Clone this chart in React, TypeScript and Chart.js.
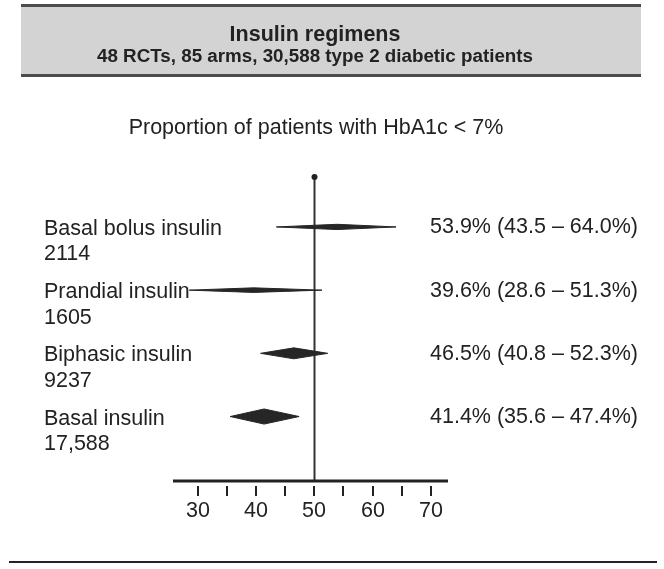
import React, { useEffect, useRef } from "react";
import { Chart, registerables } from "chart.js";

Chart.register(...registerables);

const headerTitle = "Insulin regimens";
const headerSubtitle = "48 RCTs, 85 arms, 30,588 type 2 diabetic patients";
const chartTitle = "Proportion of patients with HbA1c < 7%";

const categories = ["Basal bolus insulin", "Prandial insulin", "Biphasic insulin", "Basal insulin"];
const patients = [2114, 1605, 9237, 17588];
const estimates = [53.9, 39.6, 46.5, 41.4];
const lowerCI = [43.5, 28.6, 40.8, 35.6];
const upperCI = [64.0, 51.3, 52.3, 47.4];

const xTicks = [30, 35, 40, 45, 50, 55, 60, 65, 70];
const xTickLabels = ["30", "", "40", "", "50", "", "60", "", "70"];
const referenceValue = 50;

const FONT = '"Liberation Sans", Arial, Helvetica, sans-serif';
const INK = "#222222";

function fmtCount(n: number) {
  return n >= 10000 ? n.toLocaleString("en-US") : String(n);
}

const forestPlugin = {
  id: "forest",
  beforeDraw(chart: any) {
    const ctx = chart.ctx;
    ctx.save();
    // header box
    ctx.fillStyle = "#d3d3d3";
    ctx.fillRect(21, 5, 620, 71);
    ctx.fillStyle = "#4d4d4d";
    ctx.fillRect(21, 4, 620, 3);
    ctx.fillRect(21, 74, 620, 3);
    ctx.fillStyle = INK;
    ctx.textAlign = "center";
    ctx.textBaseline = "alphabetic";
    ctx.font = `bold 21.5px ${FONT}`;
    ctx.fillText(headerTitle, 315, 41);
    ctx.font = `bold 18.8px ${FONT}`;
    ctx.fillText(headerSubtitle, 315, 62);
    ctx.font = `21.5px ${FONT}`;
    ctx.fillText(chartTitle, 316, 134);
    // bottom rule
    ctx.fillStyle = INK;
    ctx.fillRect(9, 561, 648, 2);
    ctx.restore();
  },
  afterDatasetsDraw(chart: any) {
    const ctx = chart.ctx;
    const xs = chart.scales.x;
    const ys = chart.scales.y;
    const area = chart.chartArea;
    ctx.save();

    // reference line
    const xr = Math.round(xs.getPixelForValue(referenceValue)) + 0.5;
    ctx.strokeStyle = "#333333";
    ctx.lineWidth = 2;
    ctx.beginPath();
    ctx.moveTo(xr, area.top);
    ctx.lineTo(xr, area.bottom);
    ctx.stroke();
    ctx.fillStyle = "#222";
    ctx.beginPath();
    ctx.arc(xr, area.top, 3, 0, Math.PI * 2);
    ctx.fill();

    // diamonds
    categories.forEach((_, i) => {
      const y = ys.getPixelForValue(i);
      const h = 0.057 * Math.sqrt(patients[i]);
      const xl = xs.getPixelForValue(lowerCI[i]);
      const xm = xs.getPixelForValue(estimates[i]);
      const xh = xs.getPixelForValue(upperCI[i]);
      ctx.fillStyle = "#262626";
      ctx.strokeStyle = "#262626";
      ctx.lineWidth = 1;
      ctx.beginPath();
      ctx.moveTo(xl, y);
      ctx.lineTo(xm, y - h);
      ctx.lineTo(xh, y);
      ctx.lineTo(xm, y + h);
      ctx.closePath();
      ctx.fill();
      ctx.stroke();
    });

    // left and right labels
    ctx.fillStyle = INK;
    ctx.font = `21.5px ${FONT}`;
    ctx.textBaseline = "alphabetic";
    categories.forEach((name, i) => {
      const y = ys.getPixelForValue(i);
      ctx.textAlign = "left";
      ctx.fillText(name, 44, y + 8);
      ctx.fillText(fmtCount(patients[i]), 44, y + 33.5);
      const txt = `${estimates[i].toFixed(1)}% (${lowerCI[i].toFixed(1)} \u2013 ${upperCI[i].toFixed(1)}%)`;
      ctx.fillText(txt, 430, y + 6.5);
    });

    // x axis
    ctx.fillStyle = INK;
    ctx.fillRect(area.left, area.bottom - 1.5, area.right - area.left, 3);
    ctx.strokeStyle = INK;
    ctx.lineWidth = 2;
    ctx.textAlign = "center";
    ctx.font = `21.5px ${FONT}`;
    xTicks.forEach((v, i) => {
      const x = Math.round(xs.getPixelForValue(v));
      ctx.beginPath();
      ctx.moveTo(x, area.bottom + 5);
      ctx.lineTo(x, area.bottom + 15);
      ctx.stroke();
      if (xTickLabels[i]) ctx.fillText(xTickLabels[i], x, area.bottom + 36);
    });

    ctx.restore();
  },
};

export default function App() {
  const ref = useRef<HTMLCanvasElement | null>(null);
  useEffect(() => {
    if (!ref.current) return;
    const chart = new Chart(ref.current, {
      type: "scatter",
      data: {
        datasets: [
          {
            label: "Estimate",
            data: estimates.map((e, i) => ({ x: e, y: i })),
            pointRadius: 0,
            showLine: false,
          },
        ],
      },
      options: {
        responsive: false,
        animation: false,
        devicePixelRatio: 1,
        layout: { padding: { left: 173, right: 216, top: 177, bottom: 88 } },
        plugins: { legend: { display: false }, tooltip: { enabled: false } },
        scales: {
          x: { type: "linear", min: 25.8, max: 72.9, display: false },
          y: { type: "linear", min: -0.79, max: 4.02, reverse: true, display: false },
        },
      },
      plugins: [forestPlugin],
    } as any);
    return () => chart.destroy();
  }, []);
  return (
    <div style={{ position: "fixed", left: 0, top: 0, width: 664, height: 569, background: "#fff" }}>
      <canvas ref={ref} width={664} height={569} style={{ display: "block" }} />
    </div>
  );
}
